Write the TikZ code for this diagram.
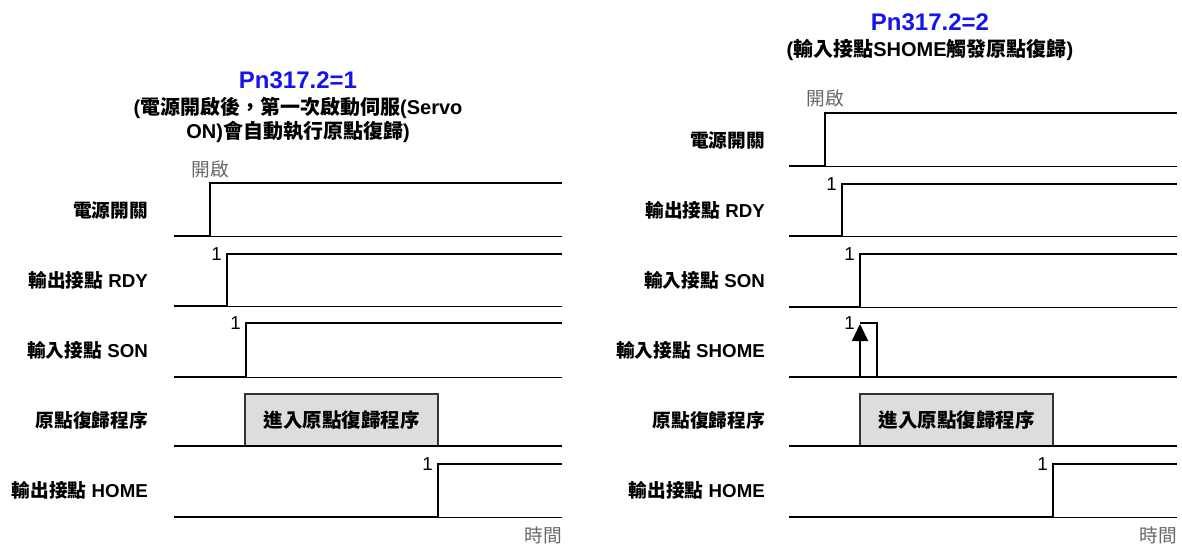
\documentclass[tikz,border=0pt]{standalone}
\usepackage{fontspec}
\setmainfont{Liberation Sans}
\newfontfamily\cjk{Noto Sans CJK TC}
\usetikzlibrary{arrows.meta}
\definecolor{titleblue}{RGB}{20,20,235}
\definecolor{boxfill}{RGB}{221,221,221}
\definecolor{softgray}{RGB}{105,105,105}
\newcommand{\C}[1]{{\cjk #1}}
\begin{document}
\begin{tikzpicture}[x=1pt,y=-1pt,
  sig/.style={line width=1.9pt, line join=miter},
  baseln/.style={line width=0.8pt},
  lbl/.style={anchor=east, inner sep=0pt, font=\fontsize{18.7}{22}\selectfont\bfseries},
  one/.style={anchor=east, inner sep=0pt, font=\fontsize{18.7}{22}\selectfont},
  gtext/.style={inner sep=0pt, text=softgray, font=\fontsize{18.7}{22}\selectfont},
  ttl/.style={inner sep=0pt, text=titleblue, font=\fontsize{24}{28}\selectfont\bfseries},
  subt/.style={inner sep=0pt, font=\fontsize{20}{24}\selectfont\bfseries},
  procbox/.style={draw=black!80, line width=1.1pt, fill=boxfill, minimum width=193pt, minimum height=52pt, inner sep=0pt, font=\fontsize{19.5}{22}\selectfont\bfseries}
]
\useasboundingbox (0,0) rectangle (1182,546);

% ---------------- left panel ----------------
\node[ttl] (tL) at (298,80) {Pn317.2=1};
\node[subt] (sL1) at (298,108) {(\C{電源開啟後，第一次啟動伺服}(Servo};
\node[subt] (sL2) at (298,132) {ON)\C{會自動執行原點復歸})};

\node[lbl] (lL1) at (148,210) {\C{電源開關}};
\node[lbl] (lL2) at (148,280) {\C{輸出接點} RDY};
\node[lbl] (lL3) at (148,350) {\C{輸入接點} SON};
\node[lbl] (lL4) at (148,420) {\C{原點復歸程序}};
\node[lbl] (lL5) at (148,490) {\C{輸出接點} HOME};

\draw[baseln] (174,236) -- (562,236);
\draw[sig] (174,236) -- (210,236) -- (210,183) -- (562,183);
\node[gtext] (kL) at (210,169) {\C{開啟}};

\draw[baseln] (174,306) -- (562,306);
\draw[sig] (174,306) -- (227,306) -- (227,254) -- (562,254);
\node[one] (oL2) at (222,254) {1};

\draw[baseln] (174,377) -- (562,377);
\draw[sig] (174,377) -- (246,377) -- (246,323) -- (562,323);
\node[one] (oL3) at (241,323) {1};

\node[procbox] (pL) at (341.5,420) {\C{進入原點復歸程序}};
\draw[sig] (174,446) -- (562,446);

\draw[baseln] (174,517) -- (562,517);
\draw[sig] (174,517) -- (438,517) -- (438,464) -- (562,464);
\node[one] (oL5) at (433,464) {1};

\node[gtext, anchor=east] (tmL) at (562,535) {\C{時間}};

% ---------------- right panel ----------------
\node[ttl] (tR) at (930,22) {Pn317.2=2};
\node[subt] (sR) at (930,50) {(\C{輸入接點}SHOME\C{觸發原點復歸})};

\node[lbl] (lR1) at (765,140) {\C{電源開關}};
\node[lbl] (lR2) at (765,210) {\C{輸出接點} RDY};
\node[lbl] (lR3) at (765,280) {\C{輸入接點} SON};
\node[lbl] (lR4) at (765,350) {\C{輸入接點} SHOME};
\node[lbl] (lR5) at (765,420) {\C{原點復歸程序}};
\node[lbl] (lR6) at (765,490) {\C{輸出接點} HOME};

\draw[baseln] (789,166) -- (1177,166);
\draw[sig] (789,166) -- (825,166) -- (825,113) -- (1177,113);
\node[gtext] (kR) at (825,98) {\C{開啟}};

\draw[baseln] (789,236) -- (1177,236);
\draw[sig] (789,236) -- (842,236) -- (842,184) -- (1177,184);
\node[one] (oR2) at (837,184) {1};

\draw[baseln] (789,307) -- (1177,307);
\draw[sig] (789,307) -- (860,307) -- (860,254) -- (1177,254);
\node[one] (oR3) at (855,254) {1};

\draw[sig] (789,377) -- (1177,377);
\draw[sig] (860,323) -- (877,323) -- (877,377);
\draw[sig, -{Triangle[length=17pt,width=16pt]}] (860,377) -- (860,324);
\node[one] (oR4) at (855,323) {1};

\node[procbox] (pR) at (956.5,420) {\C{進入原點復歸程序}};
\draw[sig] (789,446) -- (1177,446);

\draw[baseln] (789,517) -- (1177,517);
\draw[sig] (789,517) -- (1053,517) -- (1053,464) -- (1177,464);
\node[one] (oR6) at (1048,464) {1};

\node[gtext, anchor=east] (tmR) at (1177,535) {\C{時間}};
\end{tikzpicture}
\end{document}
